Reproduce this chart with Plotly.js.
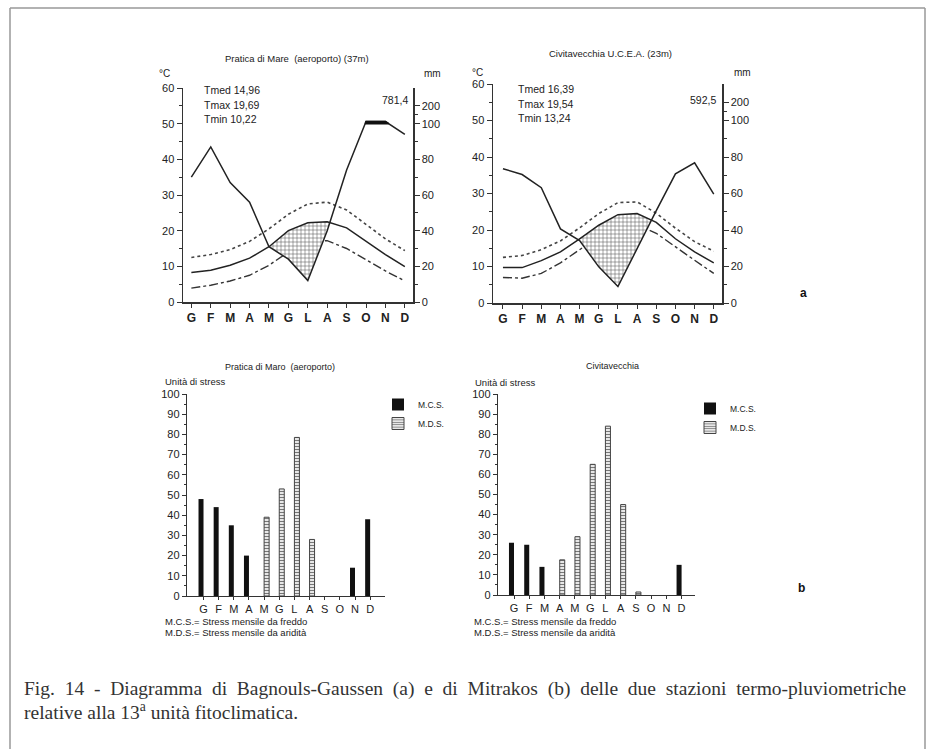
<!DOCTYPE html>
<html><head><meta charset="utf-8">
<script src="https://cdn.plot.ly/plotly-3.0.1.min.js"></script>
<style>html,body{margin:0;padding:0;background:#fff}#chart{width:931px;height:749px}</style>
</head><body><div id="chart"></div>
<script>
// ---------- data ----------
const months = ['G','F','M','A','M','G','L','A','S','O','N','D'];

// Bagnouls-Gaussen, Pratica di Mare (aeroporto)
const pmTmax = [12.5, 13.3, 14.7, 17.0, 20.5, 24.6, 27.5, 28.0, 25.8, 21.8, 17.7, 14.4];
const pmTmed = [8.3, 8.9, 10.3, 12.3, 15.5, 20.0, 22.2, 22.5, 20.8, 17.0, 13.3, 9.9];
const pmTmin = [3.9, 4.7, 5.9, 7.5, 10.3, 14.0, 16.8, 17.2, 15.0, 11.8, 8.7, 5.9];
const pmPrec = [70, 87, 67, 56, 31, 24, 12, 40, 74, 112, 112, 94];   // mm
const pmStats = ['Tmed 14,96', 'Tmax 19,69', 'Tmin 10,22'];
const pmTotal = '781,4';

// Bagnouls-Gaussen, Civitavecchia U.C.E.A.
const cvTmax = [12.5, 13.0, 14.6, 17.0, 20.6, 24.5, 27.5, 27.7, 24.6, 20.5, 16.8, 14.2];
const cvTmed = [9.7, 9.7, 11.6, 14.0, 17.6, 21.3, 24.2, 24.5, 22.1, 17.6, 14.0, 11.0];
const cvTmin = [7.0, 6.8, 8.1, 11.0, 14.6, 18.3, 21.0, 21.4, 19.1, 15.3, 11.7, 8.1];
const cvPrec = [73.6, 70.4, 63.2, 40.6, 34.2, 19.8, 9.0, 30.0, 50.6, 70.8, 76.8, 59.6]; // mm
const cvStats = ['Tmed 16,39', 'Tmax 19,54', 'Tmin 13,24'];
const cvTotal = '592,5';

// Mitrakos stress units
const pmMCS = [48, 44, 35, 20, null, null, null, null, null, null, 14, 38];
const pmMDS = [null, null, null, null, 39, 53, 78.5, 28, null, null, null, null];
const cvMCS = [26, 25, 14, null, null, null, null, null, null, null, null, 15];
const cvMDS = [null, null, null, 17.5, 29, 65, 84, 45, 1.5, null, null, null];

const mmTickVals = [0, 20, 40, 60, 80, 100, 200];

const captionLine1 = 'Fig. 14 - Diagramma di Bagnouls-Gaussen (a) e di Mitrakos (b) delle due stazioni termo-pluviometriche';
const captionLine2 = 'relative alla 13<sup>a</sup> unità fitoclimatica.';

// ---------- helpers ----------
const W = 931, H = 749;
const X = p => p / W;
const Y = p => 1 - p / H;
const idx = months.map((_, i) => i);
// Walter-Lieth precipitation scale: 2 mm = 1 °C up to 100 mm, compressed 1:10 above
const mmToScale = mm => mm <= 100 ? mm / 2 : 50 + (mm - 100) / 20;

// regions where lower < upper, with crossing points interpolated
function regions(upper, lower) {
  const polys = []; let cur = null;
  for (let i = 0; i < upper.length; i++) {
    const d = lower[i] - upper[i];
    if (i > 0) {
      const dp = lower[i - 1] - upper[i - 1];
      if ((dp < 0) !== (d < 0)) {
        const t = dp / (dp - d);
        const y = upper[i - 1] + t * (upper[i] - upper[i - 1]);
        const pt = {x: i - 1 + t, up: y, lo: y};
        if (cur) { cur.push(pt); polys.push(cur); cur = null; }
        else cur = [pt];
      }
    }
    if (d < 0) { if (!cur) cur = []; cur.push({x: i, up: upper[i], lo: lower[i]}); }
  }
  if (cur) polys.push(cur);
  return polys;
}

const font = 'Liberation Sans, Arial, sans-serif';
const ink = '#222';

function climTraces(Tmax, Tmed, Tmin, Prec, xa, ya) {
  const P = Prec.map(mmToScale);
  const tr = [];
  tr.push({x: idx, y: Tmin, xaxis: xa, yaxis: ya, mode: 'lines', showlegend: false, hoverinfo: 'skip',
           line: {color: '#333', width: 1.4, dash: 'dashdot'}});
  tr.push({x: idx, y: Tmax, xaxis: xa, yaxis: ya, mode: 'lines', showlegend: false, hoverinfo: 'skip',
           line: {color: '#444', width: 1.6, dash: 'dot'}});
  regions(Tmed, P).forEach(poly => {
    tr.push({x: poly.map(p => p.x).concat(poly.map(p => p.x).reverse()),
             y: poly.map(p => p.lo).concat(poly.map(p => p.up).reverse()),
             xaxis: xa, yaxis: ya, mode: 'lines', fill: 'toself', showlegend: false, hoverinfo: 'skip',
             line: {width: 0}, fillcolor: '#fff',
             fillpattern: {shape: '+', size: 4, solidity: 0.25, fgcolor: '#555', bgcolor: '#fff'}});
  });
  tr.push({x: idx, y: Tmed, xaxis: xa, yaxis: ya, mode: 'lines', showlegend: false, hoverinfo: 'skip',
           line: {color: '#222', width: 1.5}});
  tr.push({x: idx, y: P, xaxis: xa, yaxis: ya, mode: 'lines', showlegend: false, hoverinfo: 'skip',
           line: {color: '#222', width: 1.5}});
  const fifty = P.map(() => 50);
  regions(P, fifty).forEach(poly => {
    tr.push({x: poly.map(p => p.x).concat(poly.map(p => p.x).reverse()),
             y: poly.map(p => p.lo).concat(poly.map(p => p.up).reverse()),
             xaxis: xa, yaxis: ya, mode: 'lines', fill: 'toself', showlegend: false, hoverinfo: 'skip',
             line: {width: 1.5, color: '#111'}, fillcolor: '#111'});
  });
  return tr;
}

function barTraces(MCS, MDS, xa, ya, lg) {
  return [
    {type: 'bar', x: idx, y: MCS, xaxis: xa, yaxis: ya, name: 'M.C.S.', legend: lg,
     marker: {color: '#111', line: {width: 0}}, hoverinfo: 'skip'},
    {type: 'bar', x: idx, y: MDS, xaxis: xa, yaxis: ya, name: 'M.D.S.', legend: lg,
     marker: {color: '#fff', line: {color: '#444', width: 1},
              pattern: {shape: '-', size: 3, solidity: 0.45, fgcolor: '#777', bgcolor: '#fff'}},
     hoverinfo: 'skip'}
  ];
}

const data = []
  .concat(climTraces(pmTmax, pmTmed, pmTmin, pmPrec, 'x', 'y'))
  .concat(climTraces(cvTmax, cvTmed, cvTmin, cvPrec, 'x2', 'y3'))
  .concat(barTraces(pmMCS, pmMDS, 'x3', 'y5', 'legend'))
  .concat(barTraces(cvMCS, cvMDS, 'x4', 'y6', 'legend2'));

// ---------- axes ----------
const tickFont = {family: font, size: 11, color: ink};
function xClim(dom, rng, anchor) {
  return {domain: dom, range: rng, anchor: anchor, tickvals: idx, ticktext: months,
          ticks: 'outside', ticklen: 4, tickcolor: '#333', showline: true, linecolor: '#333', linewidth: 1.5,
          showgrid: false, zeroline: false, tickfont: {family: font, size: 12, color: ink, weight: 'bold'}};
}
function yClim(dom, anchor) {
  return {domain: dom, range: [0, 60], anchor: anchor, dtick: 10, ticks: 'outside', ticklen: 5, tickcolor: '#333',
          minor: {dtick: 5, ticks: 'outside', ticklen: 3, tickcolor: '#333'},
          showline: true, linecolor: '#333', linewidth: 1.5, showgrid: false, zeroline: false, tickfont: tickFont};
}
function y2Clim(overlay, anchor) {
  return {overlaying: overlay, side: 'right', anchor: anchor, range: [0, 60],
          tickvals: mmTickVals.map(mmToScale), ticktext: mmTickVals.map(String),
          ticks: 'outside', ticklen: 5, tickcolor: '#333',
          minor: {tickvals: [5, 15, 25, 35, 45, 52.5], ticks: 'outside', ticklen: 3, tickcolor: '#333'},
          showline: true, linecolor: '#333', linewidth: 1.5, showgrid: false, zeroline: false, tickfont: tickFont};
}
function xBar(dom, rng, anchor) {
  return {domain: dom, range: rng, anchor: anchor, tickvals: idx, ticktext: months,
          ticks: 'outside', ticklen: 3, tickcolor: '#333', showline: true, linecolor: '#333', linewidth: 1.2,
          showgrid: false, zeroline: false, tickfont: {family: font, size: 11, color: ink}};
}
function yBar(dom, anchor) {
  return {domain: dom, range: [0, 100], anchor: anchor, dtick: 10, ticks: 'outside', ticklen: 4, tickcolor: '#333',
          minor: {dtick: 5, ticks: 'outside', ticklen: 2, tickcolor: '#333'},
          showline: true, linecolor: '#333', linewidth: 1.2, showgrid: false, zeroline: false, tickfont: tickFont};
}

function ann(text, x, y, opts) {
  return Object.assign({text: text, x: X(x), y: Y(y), xref: 'paper', yref: 'paper', showarrow: false,
                        xanchor: 'left', yanchor: 'middle', font: {family: font, size: 10, color: ink}}, opts || {});
}

const serif = {family: 'Liberation Serif, Times New Roman, serif', size: 19.5, color: '#333'};
// the printed caption is justified: widen its word gaps
const captionJustified = captionLine1.split(' ').join(' \u00a0');

const annotations = [
  ann('Pratica di Mare  (aeroporto) (37m)', 297, 58, {xanchor: 'center', font: {family: font, size: 9.5, color: ink}}),
  ann('Civitavecchia U.C.E.A. (23m)', 610, 54, {xanchor: 'center', font: {family: font, size: 9.5, color: ink}}),
  ann('°C', 164, 74, {xanchor: 'center'}),
  ann('°C', 477, 72, {xanchor: 'center'}),
  ann('mm', 432, 74, {xanchor: 'center'}),
  ann('mm', 742, 72, {xanchor: 'center'}),
  ann(pmTotal, 410, 100, {xanchor: 'right', font: {family: font, size: 10.5, color: ink}}),
  ann(cvTotal, 718, 100, {xanchor: 'right', font: {family: font, size: 10.5, color: ink}}),
  ann('Pratica di Maro  (aeroporto)', 280, 367, {xanchor: 'center', font: {family: font, size: 9, color: ink}}),
  ann('Civitavecchia', 612, 366, {xanchor: 'center', font: {family: font, size: 9, color: ink}}),
  ann('Unità di stress', 163, 381, {font: {family: font, size: 9.5, color: ink}}),
  ann('Unità di stress', 473, 382, {font: {family: font, size: 9.5, color: ink}}),
  ann('M.C.S.= Stress mensile da freddo', 163, 621, {font: {family: font, size: 9.5, color: ink}}),
  ann('M.D.S.= Stress mensile da aridità', 163, 632, {font: {family: font, size: 9.5, color: ink}}),
  ann('M.C.S.= Stress mensile da freddo', 472, 621, {font: {family: font, size: 9.5, color: ink}}),
  ann('M.D.S.= Stress mensile da aridità', 472, 632, {font: {family: font, size: 9.5, color: ink}}),
  ann('a', 803, 293, {xanchor: 'center', font: {family: font, size: 12, color: '#111', weight: 'bold'}}),
  ann('b', 801, 588, {xanchor: 'center', font: {family: font, size: 12, color: '#111', weight: 'bold'}}),
  ann(captionJustified, 22, 689, {font: serif}),
  ann(captionLine2, 22, 711, {font: serif})
];
pmStats.forEach((s, i) => annotations.push(ann(s, 202, 90 + i * 14.5, {font: {family: font, size: 10.5, color: ink}})));
cvStats.forEach((s, i) => annotations.push(ann(s, 516, 89 + i * 14.5, {font: {family: font, size: 10.5, color: ink}})));

const frame = {type: 'line', xref: 'paper', yref: 'paper', line: {color: '#999', width: 1.5}};
const shapes = [
  Object.assign({}, frame, {x0: X(10), x1: X(925), y0: Y(8), y1: Y(8)}),
  Object.assign({}, frame, {x0: X(10), x1: X(10), y0: Y(8), y1: Y(749)}),
  Object.assign({}, frame, {x0: X(925), x1: X(925), y0: Y(8), y1: Y(749)})
];

const legendBase = {xanchor: 'left', yanchor: 'top', bgcolor: 'rgba(0,0,0,0)', itemwidth: 30,
                    tracegroupgap: 0, font: {family: font, size: 8.5, color: ink}};

const layout = {
  width: W, height: H, margin: {l: 0, r: 0, t: 0, b: 0},
  paper_bgcolor: '#fff', plot_bgcolor: 'rgba(0,0,0,0)',
  showlegend: true,
  barmode: 'group', bargap: 0.34, bargroupgap: 0,
  xaxis: xClim([X(183), X(413)], [-0.43, 11.42], 'y'),
  yaxis: yClim([Y(302), Y(88)], 'x'),
  yaxis2: y2Clim('y', 'x'),
  xaxis2: xClim([X(493), X(722)], [-0.52, 11.43], 'y3'),
  yaxis3: yClim([Y(303), Y(84)], 'x2'),
  yaxis4: y2Clim('y3', 'x2'),
  xaxis3: xBar([X(187), X(385)], [-1.09, 11.98], 'y5'),
  yaxis5: yBar([Y(596), Y(394)], 'x3'),
  xaxis4: xBar([X(498), X(695)], [-1.05, 11.88], 'y6'),
  yaxis6: yBar([Y(595), Y(394)], 'x4'),
  legend: Object.assign({}, legendBase, {x: X(378), y: Y(390)}),
  legend2: Object.assign({}, legendBase, {x: X(690), y: Y(394)}),
  annotations: annotations,
  shapes: shapes
};
// y2 & y4 are overlay axes: give each a (transparent) trace so they render
data.push({x: [0], y: [0], xaxis: 'x', yaxis: 'y2', mode: 'markers', marker: {opacity: 0}, showlegend: false, hoverinfo: 'skip'});
data.push({x: [0], y: [0], xaxis: 'x2', yaxis: 'y4', mode: 'markers', marker: {opacity: 0}, showlegend: false, hoverinfo: 'skip'});

Plotly.newPlot('chart', data, layout, {staticPlot: true});
</script></body></html>
